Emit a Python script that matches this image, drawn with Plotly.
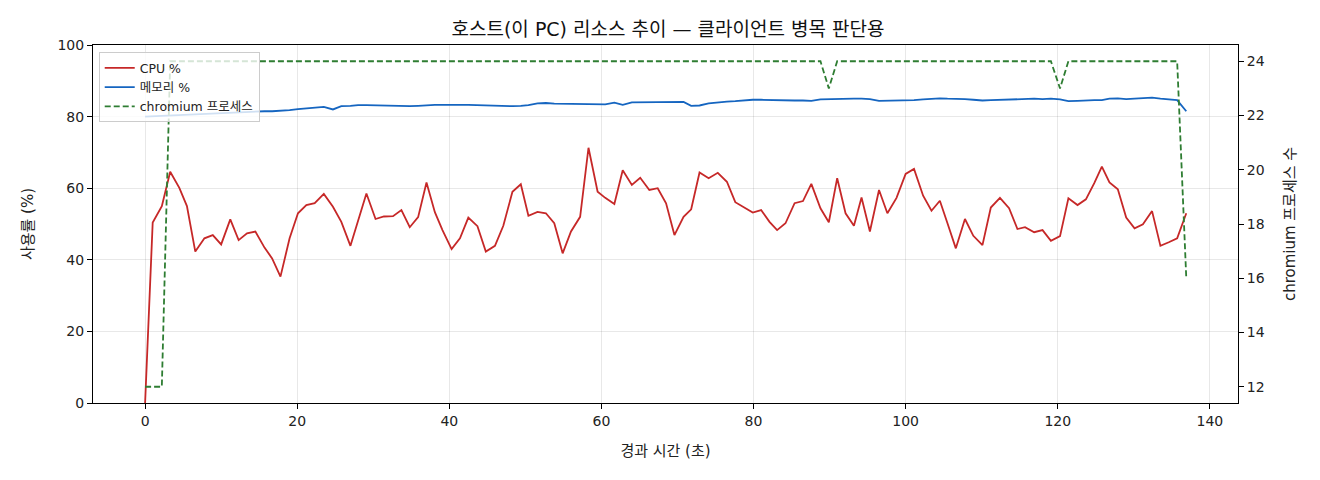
import plotly.graph_objects as go

# sample times (s)
elapsed = [
    0.0, 1.0, 2.2, 3.3, 4.5, 5.5, 6.6, 7.8, 8.9, 10.0,
    11.2, 12.3, 13.4, 14.5, 15.7, 16.7, 17.8, 19.0, 20.1, 21.2,
    22.3, 23.5, 24.7, 25.8, 27.0, 28.0, 29.1, 30.3, 31.4, 32.6,
    33.7, 34.8, 35.9, 37.0, 38.1, 39.1, 40.3, 41.4, 42.5, 43.7,
    44.8, 46.0, 47.1, 48.3, 49.4, 50.4, 51.6, 52.7, 53.8, 54.9,
    56.0, 57.2, 58.3, 59.5, 60.5, 61.7, 62.8, 64.0, 65.1, 66.3,
    67.4, 68.5, 69.6, 70.8, 71.8, 72.9, 74.1, 75.3, 76.5, 77.6,
    78.8, 79.9, 81.0, 82.1, 83.1, 84.2, 85.4, 86.5, 87.6, 88.8,
    89.9, 91.0, 92.1, 93.2, 94.2, 95.3, 96.5, 97.6, 98.8, 100.0,
    101.1, 102.3, 103.4, 104.5, 105.5, 106.6, 107.8, 108.9, 110.1, 111.2,
    112.4, 113.6, 114.7, 115.7, 116.9, 118.0, 119.1, 120.3, 121.4, 122.6,
    123.7, 124.8, 125.8, 126.8, 127.9, 129.0, 130.1, 131.2, 132.4, 133.5,
    134.6, 135.7, 136.9,
]

cpu_pct = [
    0.0, 50.4, 55.0, 64.6, 60.1, 55.0, 42.3, 46.0, 46.9, 44.3,
    51.3, 45.5, 47.4, 47.9, 43.4, 40.4, 35.3, 46.0, 53.0, 55.3,
    55.8, 58.4, 54.8, 50.6, 43.9, 51.1, 58.5, 51.4, 52.1, 52.2,
    53.9, 49.1, 51.9, 61.6, 53.3, 48.3, 43.0, 46.0, 51.8, 49.4,
    42.3, 43.9, 49.5, 59.0, 61.1, 52.3, 53.4, 53.0, 50.2, 41.8,
    47.9, 52.0, 71.3, 59.0, 57.3, 55.6, 65.0, 60.9, 62.9, 59.5,
    60.0, 55.8, 46.9, 52.0, 54.1, 64.4, 62.8, 64.3, 61.8, 56.1,
    54.7, 53.2, 53.9, 50.6, 48.3, 50.2, 55.8, 56.4, 61.2, 54.4,
    50.5, 62.8, 53.0, 49.5, 57.4, 47.9, 59.5, 53.0, 57.3, 64.0,
    65.4, 57.9, 53.7, 56.5, 50.2, 43.2, 51.4, 46.7, 44.1, 54.6,
    57.3, 54.4, 48.6, 49.1, 47.7, 48.3, 45.3, 46.6, 57.2, 55.3,
    56.9, 61.4, 66.0, 61.6, 59.7, 51.8, 48.8, 49.9, 53.6, 43.9,
    44.9, 46.0, 53.0,
]

mem_pct = [
    80.0, 80.1, 80.2, 80.4, 80.5, 80.6, 80.7, 80.8, 80.9, 81.0,
    81.1, 81.2, 81.3, 81.4, 81.5, 81.5, 81.6, 81.8, 82.1, 82.3,
    82.5, 82.7, 82.0, 82.9, 83.0, 83.2, 83.2, 83.1, 83.0, 82.9,
    83.0, 82.9, 83.0, 83.2, 83.3, 83.3, 83.2, 83.3, 83.3, 83.2,
    83.2, 83.0, 82.9, 82.9, 83.0, 83.2, 83.7, 83.8, 83.6, 83.6,
    83.6, 83.4, 83.5, 83.5, 83.4, 83.9, 83.3, 84.0, 84.0, 84.1,
    84.1, 84.1, 84.2, 84.1, 83.0, 83.1, 83.7, 84.0, 84.2, 84.3,
    84.6, 84.7, 84.7, 84.6, 84.6, 84.6, 84.5, 84.5, 84.4, 84.8,
    84.9, 84.9, 85.0, 85.0, 85.0, 84.9, 84.4, 84.4, 84.4, 84.5,
    84.6, 84.8, 85.0, 85.1, 85.0, 85.0, 84.9, 84.7, 84.5, 84.6,
    84.7, 84.8, 84.9, 85.0, 85.0, 84.9, 85.0, 84.8, 84.3, 84.4,
    84.6, 84.6, 84.6, 85.0, 85.1, 84.9, 85.0, 85.1, 85.3, 85.0,
    84.9, 84.6, 81.5,
]

chromium_procs = [
    12, 12, 12, 24, 24, 24, 24, 24, 24, 24,
    24, 24, 24, 24, 24, 24, 24, 24, 24, 24,
    24, 24, 24, 24, 24, 24, 24, 24, 24, 24,
    24, 24, 24, 24, 24, 24, 24, 24, 24, 24,
    24, 24, 24, 24, 24, 24, 24, 24, 24, 24,
    24, 24, 24, 24, 24, 24, 24, 24, 24, 24,
    24, 24, 24, 24, 24, 24, 24, 24, 24, 24,
    24, 24, 24, 24, 24, 24, 24, 24, 24, 24,
    23, 24, 24, 24, 24, 24, 24, 24, 24, 24,
    24, 24, 24, 24, 24, 24, 24, 24, 24, 24,
    24, 24, 24, 24, 24, 24, 24, 23, 24, 24,
    24, 24, 24, 24, 24, 24, 24, 24, 24, 24,
    24, 24, 16,
]

x_ticks = [0, 20, 40, 60, 80, 100, 120, 140]
left_ticks = [0, 20, 40, 60, 80, 100]
right_ticks = [12, 14, 16, 18, 20, 22, 24]

FONT = "DejaVu Sans, Noto Sans CJK KR"

fig = go.Figure()

fig.add_trace(go.Scatter(x=elapsed, y=cpu_pct, mode="lines", name="CPU %",
                         line=dict(color="#c62828", width=1.8)))
fig.add_trace(go.Scatter(x=elapsed, y=mem_pct, mode="lines", name="메모리 %",
                         line=dict(color="#1565c0", width=1.8)))
fig.add_trace(go.Scatter(x=elapsed, y=chromium_procs, mode="lines", name="chromium 프로세스",
                         yaxis="y2",
                         line=dict(color="#2e7d32", width=1.8, dash="6px,3px")))

axis_common = dict(showline=True, linecolor="black", linewidth=1, mirror=True,
                   ticks="outside", ticklen=5, tickcolor="black",
                   tickfont=dict(size=14, color="#222"), zeroline=False)

fig.update_layout(
    width=1320, height=480,
    margin=dict(l=85, r=90, t=37, b=85),
    paper_bgcolor="white", plot_bgcolor="white",
    font=dict(family=FONT, color="#222"),
    title=dict(text="호스트(이 PC) 리소스 추이 — 클라이언트 병목 판단용",
               x=0.5, xanchor="center", y=0.955, yanchor="middle",
               font=dict(size=19, color="#111")),
    xaxis=dict(range=[-6.85, 143.7], tickvals=x_ticks,
               title=dict(text="경과 시간 (초)", font=dict(size=15), standoff=17),
               showgrid=True, gridcolor="rgba(0,0,0,0.09)", **axis_common),
    yaxis=dict(range=[0, 100], tickvals=left_ticks,
               title=dict(text="사용률 (%)", font=dict(size=15), standoff=20),
               showgrid=True, gridcolor="rgba(0,0,0,0.09)", **axis_common),
    yaxis2=dict(range=[11.4, 24.6], tickvals=right_ticks, overlaying="y", side="right",
                title=dict(text="chromium 프로세스 수", font=dict(size=15), standoff=20),
                showgrid=False, showline=False, ticks="outside", ticklen=5,
                tickcolor="black", tickfont=dict(size=14, color="#222"), zeroline=False),
    legend=dict(x=0.005, y=0.98, xanchor="left", yanchor="top",
                bgcolor="rgba(255,255,255,0.8)", bordercolor="#cccccc", borderwidth=1,
                font=dict(size=12.5, color="#222"), tracegroupgap=2),
    showlegend=True,
)

fig.write_html("out.html")
